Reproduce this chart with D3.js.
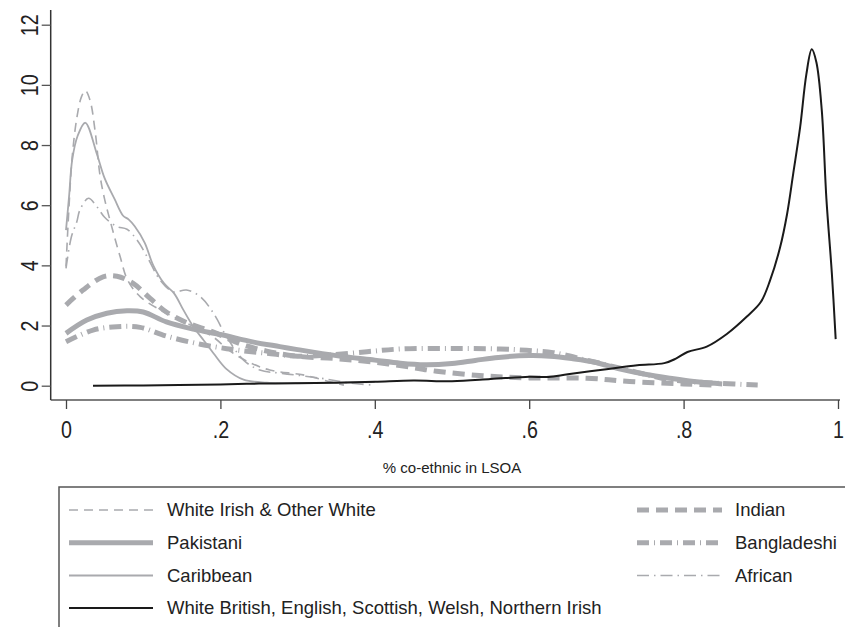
<!DOCTYPE html>
<html><head><meta charset="utf-8">
<script src="https://cdn.jsdelivr.net/npm/d3@7"></script>
<style>
body{margin:0;background:#fff}
svg{display:block}
text{font-family:"Liberation Sans",Arial,Helvetica,sans-serif;fill:#222}
</style>
</head><body>
<svg id="c" width="845" height="627"></svg>
<script>
// ---- data (x = share co-ethnic in LSOA, y = kernel density) ----
const xTicks = [0, 0.2, 0.4, 0.6, 0.8, 1];
const xTickLabels = ["0", ".2", ".4", ".6", ".8", "1"];
const yTicks = [0, 2, 4, 6, 8, 10, 12];
const xTitle = "% co-ethnic in LSOA";

const whiteIrish = [[0,3.96],[0.004,6.0],[0.008,7.6],[0.014,8.9],[0.02,9.6],[0.025,9.81],[0.031,9.5],[0.038,8.4],[0.044,7.0],[0.05,6.2],[0.057,5.5],[0.07,4.3],[0.08,3.5],[0.096,2.96],[0.122,2.52],[0.148,2.18],[0.19,1.63],[0.21,1.2],[0.234,0.82],[0.264,0.52],[0.307,0.36],[0.342,0.13],[0.36,0.02]];
const indian = [[0,2.68],[0.022,3.18],[0.048,3.62],[0.066,3.64],[0.087,3.4],[0.109,2.9],[0.13,2.45],[0.156,2.1],[0.191,1.78],[0.225,1.4],[0.26,1.15],[0.3,0.98],[0.35,0.9],[0.4,0.78],[0.45,0.6],[0.48,0.48],[0.54,0.33],[0.6,0.26],[0.674,0.25],[0.73,0.14],[0.8,0.06],[0.843,0.02]];
const pakistani = [[0,1.74],[0.027,2.18],[0.053,2.41],[0.079,2.49],[0.1,2.45],[0.13,2.12],[0.165,1.88],[0.2,1.7],[0.243,1.45],[0.277,1.3],[0.3,1.2],[0.35,1.0],[0.4,0.85],[0.433,0.75],[0.465,0.7],[0.5,0.74],[0.53,0.84],[0.56,0.94],[0.6,1.0],[0.627,0.98],[0.655,0.9],[0.685,0.78],[0.718,0.55],[0.75,0.38],[0.782,0.25],[0.82,0.12],[0.85,0.06]];
const bangladeshi = [[0,1.46],[0.035,1.85],[0.066,1.96],[0.096,1.94],[0.13,1.65],[0.174,1.38],[0.217,1.2],[0.26,1.08],[0.3,0.98],[0.34,1.02],[0.39,1.13],[0.433,1.22],[0.5,1.24],[0.562,1.22],[0.6,1.17],[0.631,1.1],[0.674,0.85],[0.718,0.58],[0.75,0.38],[0.782,0.2],[0.847,0.08],[0.896,0.02]];
const caribbean = [[0,5.17],[0.004,6.3],[0.008,7.5],[0.015,8.3],[0.025,8.74],[0.04,7.7],[0.05,6.9],[0.063,6.2],[0.074,5.65],[0.081,5.53],[0.089,5.3],[0.102,4.75],[0.113,4.0],[0.127,3.4],[0.14,3.07],[0.152,2.52],[0.165,1.96],[0.178,1.52],[0.191,1.08],[0.208,0.55],[0.23,0.2],[0.26,0.1],[0.3,0.09],[0.35,0.1],[0.4,0.12]];
const african = [[0,3.9],[0.007,4.95],[0.014,5.45],[0.018,5.84],[0.029,6.23],[0.04,5.95],[0.05,5.6],[0.066,5.29],[0.079,5.2],[0.092,4.84],[0.105,4.29],[0.122,3.51],[0.139,3.12],[0.156,3.18],[0.174,2.96],[0.191,2.41],[0.208,1.63],[0.23,0.85],[0.251,0.52],[0.28,0.41],[0.33,0.25],[0.37,0.08],[0.4,0.02]];
const whiteBritish = [[0.035,0.0],[0.1,0.01],[0.2,0.04],[0.25,0.07],[0.3,0.08],[0.35,0.1],[0.4,0.13],[0.45,0.17],[0.5,0.15],[0.55,0.22],[0.6,0.3],[0.625,0.29],[0.65,0.38],[0.7,0.55],[0.74,0.68],[0.775,0.75],[0.79,0.9],[0.805,1.12],[0.83,1.3],[0.856,1.72],[0.882,2.3],[0.9,2.78],[0.912,3.5],[0.925,4.6],[0.934,5.7],[0.942,7.05],[0.951,8.6],[0.959,10.35],[0.966,11.18],[0.972,10.75],[0.979,9.15],[0.985,6.2],[0.992,3.75],[0.997,1.55]];

const seriesNames = ["White Irish & Other White","Indian","Pakistani","Bangladeshi","Caribbean","African","White British, English, Scottish, Welsh, Northern Irish"];
const seriesData = [whiteIrish, indian, pakistani, bangladeshi, caribbean, african, whiteBritish];

// ---- styles ----
const grey = "#a9aaae";
const styles = [
  {color:grey, width:1.6, dash:"9,6"},
  {color:grey, width:5, dash:"12,7"},
  {color:grey, width:5, dash:null},
  {color:grey, width:5, dash:"12,5,1,5"},
  {color:grey, width:1.8, dash:null},
  {color:grey, width:1.6, dash:"12,5,1.5,5"},
  {color:"#1a1a1a", width:2, dash:null}
];

const svg = d3.select("#c");
const x = d3.scaleLinear().domain([0,1]).range([66,838]);
const y = d3.scaleLinear().domain([0,12]).range([385.7,24.7]);

// axes
const axisX = 50.7, axisY = 400;
svg.append("line").attr("x1",axisX).attr("x2",840).attr("y1",axisY).attr("y2",axisY)
  .attr("stroke","#555").attr("stroke-width",1.5);
svg.append("line").attr("x1",axisX).attr("x2",axisX).attr("y1",10).attr("y2",axisY)
  .attr("stroke","#333").attr("stroke-width",1.5);

const gx = svg.append("g").attr("transform",`translate(0,${axisY})`)
  .call(d3.axisBottom(x).tickValues(xTicks).tickFormat((d,i)=>xTickLabels[i]).tickSize(9).tickSizeOuter(0));
gx.select(".domain").remove();
gx.selectAll(".tick line").attr("stroke","#444").attr("stroke-width",1.3);
gx.selectAll(".tick text").attr("y",0).attr("dy",null)
  .attr("transform","translate(0,38) scale(0.82,1)")
  .style("font-size","24px").attr("fill","#222");

const gy = svg.append("g").attr("transform",`translate(${axisX},0)`)
  .call(d3.axisLeft(y).tickValues(yTicks).tickSize(9).tickSizeOuter(0));
gy.select(".domain").remove();
gy.selectAll(".tick line").attr("stroke","#555").attr("stroke-width",1.3);
gy.selectAll(".tick text").attr("x",0).attr("dy",null).attr("text-anchor","middle")
  .attr("transform","translate(-21,0) rotate(-90) scale(0.82,1)")
  .attr("dy","0.36em")
  .style("font-size","24px").attr("fill","#222");

svg.append("text").attr("x",(x(0)+x(1))/2).attr("y",473).attr("text-anchor","middle")
  .style("font-size","15px").text(xTitle);

// curves
const line = d3.line().x(d=>x(d[0])).y(d=>y(d[1])).curve(d3.curveCatmullRom.alpha(0.5));
seriesData.forEach((data,i)=>{
  const s = styles[i];
  svg.append("path").datum(data).attr("d",line)
    .attr("fill","none").attr("stroke",s.color).attr("stroke-width",s.width)
    .attr("stroke-dasharray",s.dash).attr("stroke-linejoin","round");
});

// legend
const lg = svg.append("g");
lg.append("path").attr("d","M850,487 H59 V640").attr("fill","none").attr("stroke","#555").attr("stroke-width",1.5);
const rowsY = [510, 542.7, 575.5, 608];
const legendPos = [[0,0],[1,0],[0,1],[1,1],[0,2],[1,2],[0,3]];
const colX = [[69,153,167],[637,722,735]];
seriesNames.forEach((name,i)=>{
  const [c,r] = legendPos[i];
  const s = styles[i];
  const yy = rowsY[r];
  lg.append("line").attr("x1",colX[c][0]).attr("x2",colX[c][1]).attr("y1",yy).attr("y2",yy)
    .attr("stroke",s.color).attr("stroke-width",s.width).attr("stroke-dasharray",s.dash);
  lg.append("text").attr("x",colX[c][2]).attr("y",yy).attr("dy","0.35em")
    .style("font-size","18.5px").text(name);
});
</script>
</body></html>
